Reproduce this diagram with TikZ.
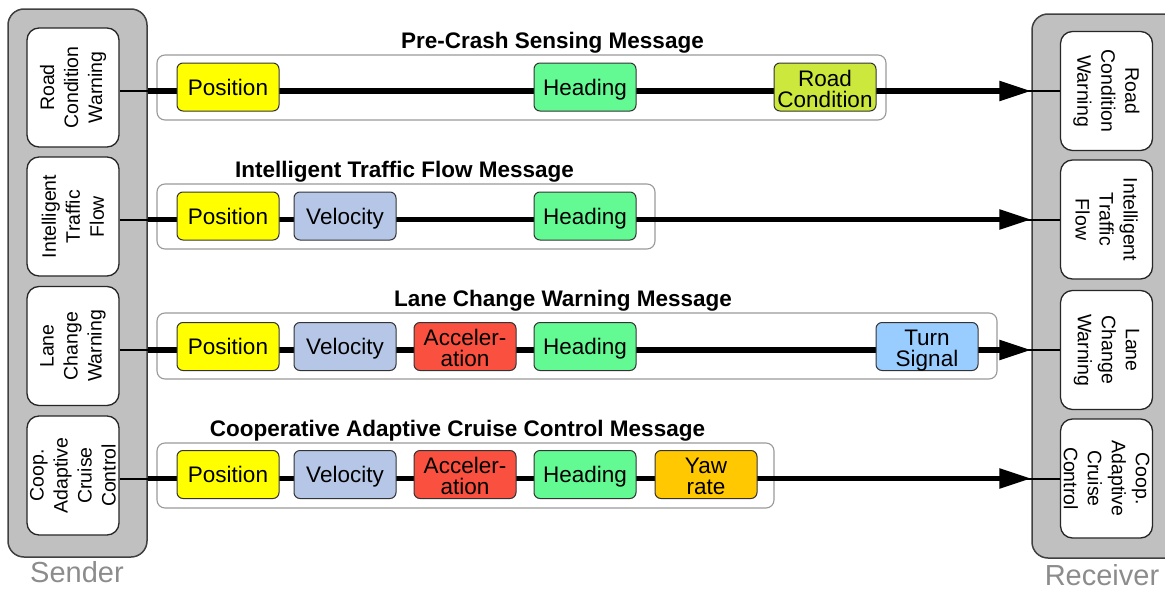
\documentclass[tikz,border=0pt]{standalone}
\usepackage{fontspec}
\setmainfont{Liberation Sans}
\usetikzlibrary{arrows.meta}
\definecolor{cpos}{HTML}{FFFF00}
\definecolor{cvel}{HTML}{B6C6E6}
\definecolor{cacc}{HTML}{F9503F}
\definecolor{chead}{HTML}{63FA94}
\definecolor{croad}{HTML}{CDE83C}
\definecolor{cturn}{HTML}{99CCFF}
\definecolor{cyaw}{HTML}{FFC800}
\definecolor{cgray}{HTML}{C0C0C0}
\definecolor{clabel}{HTML}{8C8C8C}
\begin{document}
\begin{tikzpicture}[x=1pt,y=-1pt,
  container/.style={draw=black!75, line width=1.5pt, fill=cgray, rounded corners=16pt, inner sep=0pt},
  wbox/.style={draw=black!85, line width=1.3pt, fill=white, rounded corners=12pt,
    minimum width=92pt, minimum height=119pt, inner sep=0pt},
  wtext/.style={align=center, font=\fontsize{19.5}{24}\selectfont, inner sep=0pt},
  field/.style={draw=black!80, line width=1pt, rounded corners=6pt, minimum width=102pt,
    minimum height=48pt, inner sep=0pt, align=center, font=\fontsize{22.5}{21}\selectfont,
    text height=16pt, text depth=0pt},
  field2/.style={field, text height=40pt},
  msg/.style={draw=black!40, line width=1.1pt, rounded corners=8pt, inner sep=0pt},
  title/.style={font=\fontsize{22.5}{25}\selectfont\bfseries, anchor=base, inner sep=0pt},
  thinline/.style={line width=2pt},
  thickline/.style={line width=5.5pt, -{Triangle[length=32pt,width=19pt]}},
  sidelabel/.style={font=\fontsize{29}{30}\selectfont, text=clabel, anchor=base, inner sep=0pt}
]
\useasboundingbox (0,0) rectangle (1165,589);

% containers
\node[container, minimum width=139pt, minimum height=548pt] (sender) at (77.5,283) {};
\node[container, minimum width=160pt, minimum height=544pt] (receiver) at (1112,286) {};

% sender boxes
\node[wbox] (s1) at (73,87.5) {};
\node[wbox] (s2) at (73,216.5) {};
\node[wbox] (s3) at (73,346) {};
\node[wbox] (s4) at (73,475.5) {};
\node[wtext, rotate=90] (s1t) at (s1) {Road\\Condition\\Warning};
\node[wtext, rotate=90] (s2t) at (s2) {Intelligent\\Traffic\\Flow};
\node[wtext, rotate=90] (s3t) at (s3) {Lane\\Change\\Warning};
\node[wtext, rotate=90] (s4t) at (s4) {Coop.\\Adaptive\\Cruise\\Control};

% receiver boxes
\node[wbox] (r1) at (1106.5,91) {};
\node[wbox] (r2) at (1106.5,219.5) {};
\node[wbox] (r3) at (1106.5,350) {};
\node[wbox] (r4) at (1106.5,478.5) {};
\node[wtext, rotate=-90] (r1t) at (r1) {Road\\Condition\\Warning};
\node[wtext, rotate=-90] (r2t) at (r2) {Intelligent\\Traffic\\Flow};
\node[wtext, rotate=-90] (r3t) at (r3) {Lane\\Change\\Warning};
\node[wtext, rotate=-90] (r4t) at (r4) {Coop.\\Adaptive\\Cruise\\Control};

% side labels
\node[sidelabel] (sl) at (77,582) {Sender};
\node[sidelabel] (rl) at (1102,585) {Receiver};

% message frames
\node[msg, minimum width=729pt, minimum height=65pt] (m1) at (521.5,87.5) {};
\node[msg, minimum width=498pt, minimum height=65pt] (m2) at (406,216.5) {};
\node[msg, minimum width=840pt, minimum height=66pt] (m3) at (577,346) {};
\node[msg, minimum width=617pt, minimum height=65pt] (m4) at (465.5,475.5) {};

% titles
\node[title] (t1) at (552.5,48) {Pre-Crash Sensing Message};
\node[title] (t2) at (404.5,177) {Intelligent Traffic Flow Message};
\node[title] (t3) at (563,306) {Lane Change Warning Message};
\node[title] (t4) at (457.5,436) {Cooperative Adaptive Cruise Control Message};

% connectors
\foreach \i in {1,2,3,4}{
  \draw[thinline] (s\i.east |- r\i.west) -- (r\i.west);
  \draw[thickline] (sender.east |- r\i.west) -- (receiver.west |- r\i.west);
}

% fields row 1
\node[field, fill=cpos] (p1) at (228,87) {Position};
\node[field, fill=chead] (h1) at (585,87) {Heading};
\node[field2, fill=croad] (rc1) at (825,87) {Road\\Condition};
% row 2
\node[field, fill=cpos] (p2) at (228,216) {Position};
\node[field, fill=cvel] (v2) at (345,216) {Velocity};
\node[field, fill=chead] (h2) at (585,216) {Heading};
% row 3
\node[field, fill=cpos] (p3) at (228,346.5) {Position};
\node[field, fill=cvel] (v3) at (345,346.5) {Velocity};
\node[field2, fill=cacc] (a3) at (465,346.5) {Acceler-\\ation};
\node[field, fill=chead] (h3) at (585,346.5) {Heading};
\node[field2, fill=cturn] (ts3) at (927,346.5) {Turn\\Signal};
% row 4
\node[field, fill=cpos] (p4) at (228,474.5) {Position};
\node[field, fill=cvel] (v4) at (345,474.5) {Velocity};
\node[field2, fill=cacc] (a4) at (465,474.5) {Acceler-\\ation};
\node[field, fill=chead] (h4) at (585,474.5) {Heading};
\node[field2, fill=cyaw] (y4) at (706,474.5) {Yaw\\rate};
\end{tikzpicture}
\end{document}
